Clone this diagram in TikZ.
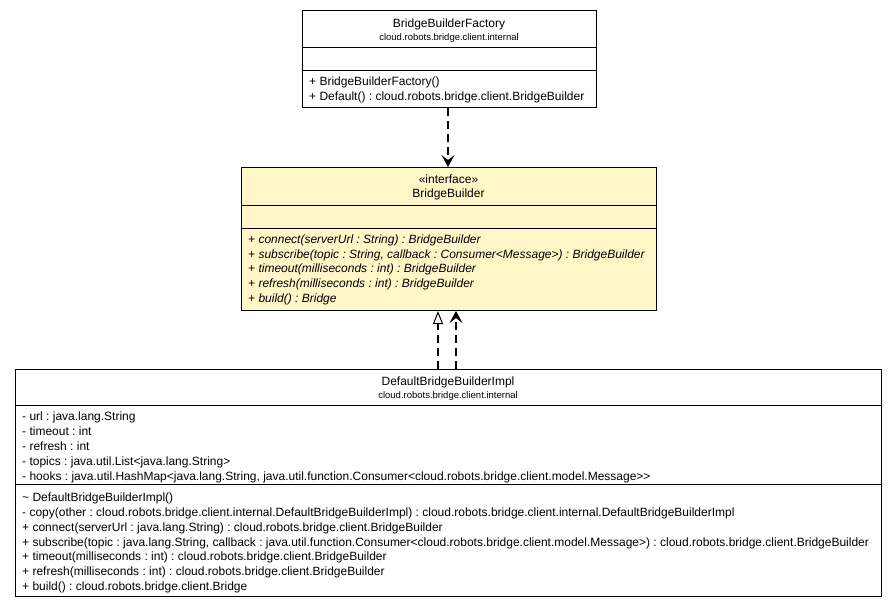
\documentclass[tikz,border=0pt]{standalone}
\usepackage{fontspec}
\setmainfont{Liberation Sans}
\usetikzlibrary{arrows.meta}
\definecolor{ifill}{RGB}{255,247,200}
\tikzset{
  cls/.style={draw=black, line width=1pt, inner sep=0pt, anchor=north west},
  sep/.style={draw=black, line width=1pt},
  ln/.style={anchor=base west, inner sep=0pt, font=\fontsize{12}{14}\selectfont\frenchspacing},
  lni/.style={ln, font=\fontsize{12}{14}\selectfont\frenchspacing\itshape},
  ttl/.style={anchor=base, inner sep=0pt, font=\fontsize{12}{14}\selectfont\frenchspacing},
  pkg/.style={anchor=base, inner sep=0pt, font=\fontsize{9.5}{11}\selectfont\frenchspacing},
  dep/.style={draw=black, line width=1.2pt, dash pattern=on 8pt off 5pt, -{Stealth[length=12pt,width=13pt,inset=5pt]}},
  real/.style={draw=black, line width=1.2pt, dash pattern=on 8pt off 5pt, -{Triangle[open,length=13pt,width=10pt,fill=white,line width=1pt]}},
}
\begin{document}
\begin{tikzpicture}[x=1pt,y=-1pt]
\useasboundingbox (0,0) rectangle (896,608);
\fill[white] (0,0) rectangle (896,608);
% Factory
\node[cls, fill=white, minimum width=294pt, minimum height=97pt] (fac) at (302,10) {};
\draw[sep] (302,47) -- (596,47);
\draw[sep] (302,70) -- (596,70);
\node[ttl] (facT) at (449,27.5) {BridgeBuilderFactory};
\node[pkg] (facP) at (449,40.5) {cloud.robots.bridge.client.internal};
\node[ln] (f1) at (309,85) {+ BridgeBuilderFactory()};
\node[ln] (f2) at (309,100) {+ Default() : cloud.robots.bridge.client.BridgeBuilder};
% Interface
\node[cls, fill=ifill, minimum width=415pt, minimum height=143pt] (bb) at (241,167) {};
\draw[sep] (241,205) -- (656,205);
\draw[sep] (241,228) -- (656,228);
\node[ttl] (bbS) at (448.5,183) {«interface»};
\node[ttl] (bbT) at (448.5,197.5) {BridgeBuilder};
\node[lni] (b1) at (248,243) {+ connect(serverUrl : String) : BridgeBuilder};
\node[lni] (b2) at (248,258) {+ subscribe(topic : String, callback : Consumer<Message>) : BridgeBuilder};
\node[lni] (b3) at (248,272) {+ timeout(milliseconds : int) : BridgeBuilder};
\node[lni] (b4) at (248,287) {+ refresh(milliseconds : int) : BridgeBuilder};
\node[lni] (b5) at (248,302) {+ build() : Bridge};
% Impl
\node[cls, fill=white, minimum width=866pt, minimum height=227pt] (impl) at (15,369) {};
\draw[sep] (15,405) -- (881,405);
\draw[sep] (15,484) -- (881,484);
\node[ttl] (imT) at (448,385.5) {DefaultBridgeBuilderImpl};
\node[pkg] (imP) at (448,398.5) {cloud.robots.bridge.client.internal};
\node[ln] (a1) at (22,420) {- url : java.lang.String};
\node[ln] (a2) at (22,435) {- timeout : int};
\node[ln] (a3) at (22,450) {- refresh : int};
\node[ln] (a4) at (22,465) {- topics : java.util.List<java.lang.String>};
\node[ln] (a5) at (22,480) {- hooks : java.util.HashMap<java.lang.String, java.util.function.Consumer<cloud.robots.bridge.client.model.Message>{}>};
\node[ln] (m1) at (22,501) {\textasciitilde{} DefaultBridgeBuilderImpl()};
\node[ln] (m2) at (22,516) {- copy(other : cloud.robots.bridge.client.internal.DefaultBridgeBuilderImpl) : cloud.robots.bridge.client.internal.DefaultBridgeBuilderImpl};
\node[ln] (m3) at (22,531) {+ connect(serverUrl : java.lang.String) : cloud.robots.bridge.client.BridgeBuilder};
\node[ln] (m4) at (22,546) {+ subscribe(topic : java.lang.String, callback : java.util.function.Consumer<cloud.robots.bridge.client.model.Message>) : cloud.robots.bridge.client.BridgeBuilder};
\node[ln] (m5) at (22,560) {+ timeout(milliseconds : int) : cloud.robots.bridge.client.BridgeBuilder};
\node[ln] (m6) at (22,575) {+ refresh(milliseconds : int) : cloud.robots.bridge.client.BridgeBuilder};
\node[ln] (m7) at (22,590) {+ build() : cloud.robots.bridge.client.Bridge};
% connectors
\draw[dep] (fac.south -| 448,0) -- (bb.north -| 448,0);
\draw[real] (impl.north -| 438,0) -- (bb.south -| 438,0);
\draw[dep] (impl.north -| 456,0) -- (bb.south -| 456,0);
\end{tikzpicture}
\end{document}
